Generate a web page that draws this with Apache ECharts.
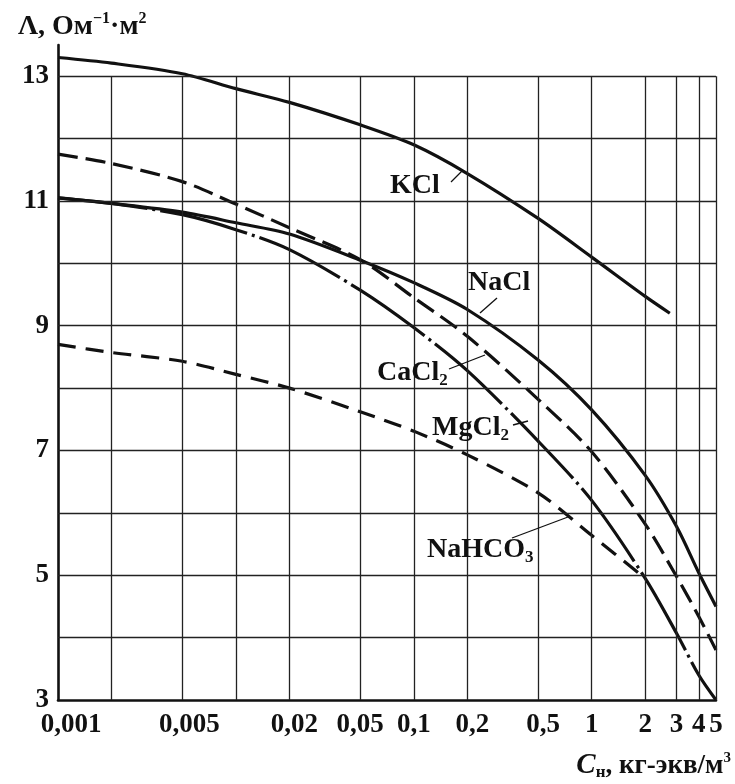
<!DOCTYPE html>
<html><head><meta charset="utf-8">
<script src="https://cdn.jsdelivr.net/npm/echarts@6/dist/echarts.min.js"></script>
<style>html,body{margin:0;padding:0;background:#fff}#c{width:735px;height:784px}</style>
</head><body><div id="c"></div>
<script>
// ---- data ----
const concFull = [0.001, 0.002, 0.005, 0.01, 0.02, 0.05, 0.1, 0.2, 0.5, 1, 2, 3, 4, 5];
const concKCl = [0.001, 0.002, 0.005, 0.01, 0.02, 0.05, 0.1, 0.2, 0.5, 1, 2, 2.75];
const kcl = [13.30, 13.21, 13.04, 12.80, 12.58, 12.22, 11.90, 11.44, 10.72, 10.10, 9.47, 9.20];
const nacl = [11.05, 10.96, 10.82, 10.65, 10.47, 10.05, 9.69, 9.26, 8.45, 7.65, 6.60, 5.78, 5.04, 4.50];
const cacl2 = [11.75, 11.60, 11.31, 10.95, 10.57, 10.06, 9.45, 8.83, 7.82, 6.98, 5.82, 4.98, 4.34, 3.80];
const mgcl2 = [11.05, 10.96, 10.78, 10.54, 10.22, 9.57, 8.97, 8.28, 7.15, 6.20, 4.95, 4.07, 3.40, 3.00];
const concNaHCO3 = [0.001, 0.002, 0.005, 0.01, 0.02, 0.05, 0.1, 0.2, 0.5, 1, 2];
const nahco3 = [8.70, 8.57, 8.43, 8.22, 8.00, 7.62, 7.31, 6.93, 6.32, 5.64, 4.95];

const xTickValues = [0.001, 0.005, 0.02, 0.05, 0.1, 0.2, 0.5, 1, 2, 3, 4, 5];
const xTickLabels = ['0,001', '0,005', '0,02', '0,05', '0,1', '0,2', '0,5', '1', '2', '3', '4', '5'];
const xGridValues = [0.002, 0.005, 0.01, 0.02, 0.05, 0.1, 0.2, 0.5, 1, 2, 3, 4, 5];
const yTickValues = [3, 5, 7, 9, 11, 13];
const yGridValues = [4, 5, 6, 7, 8, 9, 10, 11, 12, 13];

const FONT = '"Liberation Serif", "DejaVu Serif", serif';
const INK = '#111';

function pairs(xs, ys) { return xs.map((x, i) => [x, ys[i]]); }

function curve(name, xs, ys, dash) {
  return {
    name, type: 'line', data: pairs(xs, ys),
    smooth: 0.3,
    showSymbol: false, symbol: 'none', silent: true,
    lineStyle: { color: INK, width: 3.2, type: dash || 'solid', cap: 'butt' },
    emphasis: { disabled: true }, z: 3
  };
}

const gridLines = [];
xGridValues.forEach(v => gridLines.push([{ coord: [v, 3] }, { coord: [v, 13] }]));
yGridValues.forEach(v => gridLines.push([{ coord: [0.001, v] }, { coord: [5, v] }]));

function lbl(x, y, text) {
  return {
    type: 'text', x, y, silent: true, z: 10,
    style: {
      text, fill: INK, fontSize: 28, fontWeight: 'bold', fontFamily: FONT,
      verticalAlign: 'middle', align: 'left', lineHeight: 32,
      rich: {
        sub: { fontSize: 17, fontWeight: 'bold', fontFamily: FONT, fill: INK, lineHeight: 16, verticalAlign: 'bottom' }
      }
    }
  };
}
function lead(x1, y1, x2, y2) {
  return { type: 'line', silent: true, z: 10, shape: { x1, y1, x2, y2 }, style: { stroke: INK, lineWidth: 1.3 } };
}

const tickFont = { color: INK, fontSize: 27, fontWeight: 'bold', fontFamily: FONT };

const chart = echarts.init(document.getElementById('c'), null, { renderer: 'canvas' });
chart.setOption({
  animation: false,
  backgroundColor: '#fff',
  grid: { left: 58, right: 19, top: 45, bottom: 84, containLabel: false },
  xAxis: {
    type: 'log', logBase: 10, min: 0.001, max: 5,
    axisLine: { show: true, lineStyle: { color: INK, width: 2.6 } },
    axisTick: { show: false },
    splitLine: { show: false },
    minorTick: { show: false }, minorSplitLine: { show: false },
    axisLabel: Object.assign({
      customValues: xTickValues, margin: 12,
      rich: {
        p1: Object.assign({ padding: [0, 0, 0, 26] }, tickFont),
        p2: Object.assign({ padding: [0, 0, 0, 14] }, tickFont),
        p3: Object.assign({ padding: [0, 0, 0, 10] }, tickFont)
      },
      formatter: function (v) {
        let best = 0, bd = Infinity;
        xTickValues.forEach((t, i) => { const d = Math.abs(Math.log(v / t)); if (d < bd) { bd = d; best = i; } });
        const s = xTickLabels[best];
        if (best === 0) return '{p1|' + s + '}';
        if (best === 1) return '{p2|' + s + '}';
        if (best === 2 || best === 5 || best === 6) return '{p3|' + s + '}';
        return s;
      }
    }, tickFont)
  },
  yAxis: {
    type: 'value', min: 3, max: 13.5, interval: 1,
    axisLine: { show: true, lineStyle: { color: INK, width: 2.6 } },
    axisTick: { show: false },
    splitLine: { show: false },
    axisLabel: Object.assign({ customValues: yTickValues, margin: 9 }, tickFont)
  },
  series: [
    {
      name: 'grid', type: 'line', data: [], silent: true, z: 1,
      markLine: {
        silent: true, symbol: ['none', 'none'], animation: false,
        label: { show: false }, emphasis: { disabled: true },
        lineStyle: { color: '#222', width: 1.3, type: 'solid' },
        data: gridLines
      }
    },
    curve('KCl', concKCl, kcl),
    curve('NaCl', concFull, nacl),
    curve('CaCl2', concFull, cacl2, [20, 8]),
    curve('MgCl2', concFull, mgcl2, [90, 5, 3, 5]),
    curve('NaHCO3', concNaHCO3, nahco3, [18, 10])
  ],
  graphic: [
    {
      type: 'text', x: 18, y: 27, silent: true,
      style: {
        text: 'Λ, Ом{sup|−1}·м{sup|2}', fill: INK, fontSize: 28, fontWeight: 'bold', fontFamily: FONT,
        verticalAlign: 'middle', lineHeight: 32,
        rich: { sup: { fontSize: 16, fontWeight: 'bold', fontFamily: FONT, fill: INK, lineHeight: 16, verticalAlign: 'top' } }
      }
    },
    {
      type: 'text', x: 731, y: 766, silent: true,
      style: {
        text: '{it|C}{sub|н}, кг-экв/м{sup|3}', fill: INK, fontSize: 27, fontWeight: 'bold', fontFamily: FONT,
        verticalAlign: 'middle', align: 'right', lineHeight: 30,
        rich: {
          it: { fontSize: 29, fontWeight: 'bold', fontStyle: 'italic', fontFamily: FONT, fill: INK },
          sub: { fontSize: 17, fontWeight: 'bold', fontFamily: FONT, fill: INK, lineHeight: 14, verticalAlign: 'bottom' },
          sup: { fontSize: 15, fontWeight: 'bold', fontFamily: FONT, fill: INK, lineHeight: 16, verticalAlign: 'top' }
        }
      }
    },
    lbl(390, 186, 'KCl'), lead(451, 182, 463, 170),
    lbl(468, 283, 'NaCl'), lead(497, 298, 480, 313),
    lbl(377, 373, 'CaCl{sub|2}'), lead(449, 369, 485, 355),
    lbl(432, 428, 'MgCl{sub|2}'), lead(513, 425, 528, 421),
    lbl(427, 550, 'NaHCO{sub|3}'), lead(512, 538, 568, 517)
  ]
});
</script>
</body></html>
